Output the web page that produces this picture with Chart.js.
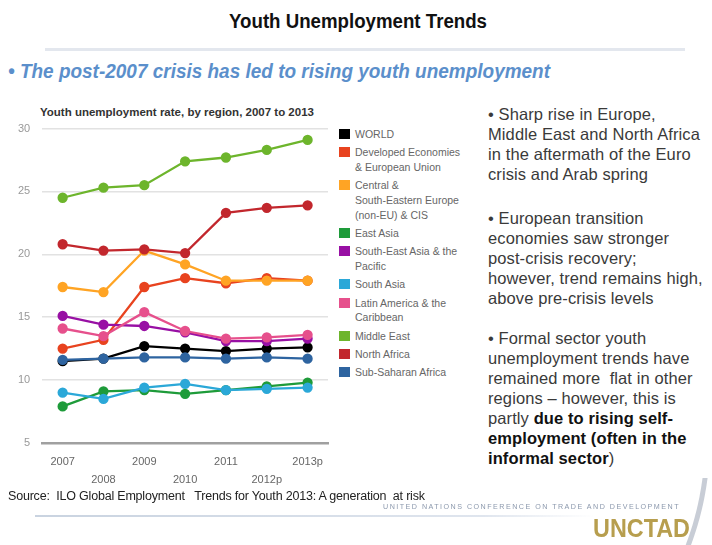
<!DOCTYPE html>
<html lang="en">
<head>
	<meta charset="UTF-8">
	<title>Youth Unemployment Trends</title>
	<script src="https://cdn.jsdelivr.net/npm/chart.js"></script>
	<style>
		* { margin: 0; padding: 0; box-sizing: border-box; }
		body { width: 712px; height: 545px; position: relative; background: #fff; overflow: hidden; font-family: "Liberation Sans", Arial, sans-serif; }
		.fit { position: absolute; white-space: nowrap; transform-origin: 0 0; }
		#titulo { top: 10px; left: 229px; font-size: 20px; font-weight: bold; color: #111; }
		#linea-top { position: absolute; top: 48px; left: 45px; width: 640px; height: 3px; background: #e3e7ee; }
		#subtitulo { top: 60px; left: 8px; font-size: 20px; font-style: italic; font-weight: bold; color: #5b8fcb; }
		#chart-title { position: absolute; top: 106px; left: 40px; font-size: 11.5px; font-weight: bold; color: #333; }
		#grafico-container { position: absolute; left: 0; top: 110px; width: 336px; height: 381px; }
		#leyenda { position: absolute; left: 339px; top: 127px; width: 135px; list-style: none; font-size: 10.5px; color: #666; line-height: 14.6px; }
		#leyenda li { position: relative; padding-left: 16px; margin-bottom: 3.8px; }
		#leyenda li span { position: absolute; left: 0; top: 2px; width: 11px; height: 10px; }
		#texto { position: absolute; left: 488px; top: 104px; width: 224px; font-size: 16.5px; line-height: 20px; color: #3a3a3a; letter-spacing: 0.1px; }
		#texto p { margin-bottom: 24px; }
		#texto p.b3 { margin-top: -4px; }
		#texto b { color: #111; }
		#fuente { position: absolute; left: 8px; top: 489px; font-size: 12.5px; color: #222; letter-spacing: -0.2px; }
		#linea-bottom { position: absolute; top: 515px; left: 35px; width: 560px; height: 2px; background: linear-gradient(to right, #c9d3e0, #dfe5ee 80%, rgba(255,255,255,0)); }
		#unctad-full { top: 503px; left: 383px; font-size: 6.3px; letter-spacing: 1.3px; color: #8c99ad; }
		#unctad { top: 513px; left: 593px; font-size: 26px; font-weight: bold; color: #b79e4e; }
		#swoosh-clip { position: absolute; left: 600px; top: 478px; width: 112px; height: 67px; overflow: hidden; }
		#swoosh { position: absolute; left: -490px; top: -338px; width: 600px; height: 600px; border-radius: 50%; border: 5px solid transparent; border-right-color: #c8cdd6; }
	</style>
</head>
<body>
	<div id="titulo" class="fit" data-w="258">Youth Unemployment Trends</div>
	<div id="linea-top"></div>
	<div id="subtitulo" class="fit" data-w="542">• The post-2007 crisis has led to rising youth unemployment</div>

	<div id="chart-title">Youth unemployment rate, by region, 2007 to 2013</div>
	<div id="grafico-container">
		<canvas id="grafico"></canvas>
	</div>
	<ul id="leyenda"></ul>

	<div id="texto">
		<p>• Sharp rise in Europe,<br>Middle East and North Africa<br>in the aftermath of the Euro<br>crisis and Arab spring</p>
		<p>• European transition<br>economies saw stronger<br>post-crisis recovery;<br>however, trend remains high,<br>above pre-crisis levels</p>
		<p class="b3">• Formal sector youth<br>unemployment trends have<br>remained more&nbsp; flat in other<br>regions – however, this is<br>partly <b>due to rising self-<br>employment (often in the<br>informal sector</b>)</p>
	</div>

	<div id="fuente">Source:&nbsp; ILO Global Employment&nbsp;&nbsp; Trends for Youth 2013: A generation&nbsp; at risk</div>
	<div id="linea-bottom"></div>
	<div id="swoosh-clip"><div id="swoosh"></div></div>
	<div id="unctad-full" class="fit" data-w="297">UNITED NATIONS CONFERENCE ON TRADE AND DEVELOPMENT</div>
	<div id="unctad" class="fit" data-w="97">UNCTAD</div>

	<script>
		// años (eje x)
		const years = ['2007', '2008', '2009', '2010', '2011', '2012p', '2013p'];

		// nombres de las regiones (leyenda, se parten en lineas como en el original)
		const regions = [
			['WORLD'],
			['Developed Economies', '& European Union'],
			['Central &', 'South-Eastern Europe', '(non-EU) & CIS'],
			['East Asia'],
			['South-East Asia & the', 'Pacific'],
			['South Asia'],
			['Latin America & the', 'Caribbean'],
			['Middle East'],
			['North Africa'],
			['Sub-Saharan Africa']
		];

		const colors = ['#000000', '#e8431f', '#ffa424', '#1e9b3a', '#9810a4', '#2ba8d8', '#e6508c', '#6db52c', '#c2272d', '#2e64a0'];

		// tasas de desempleo juvenil (%)
		const world = [11.5, 11.7, 12.7, 12.5, 12.3, 12.5, 12.6];
		const developed = [12.5, 13.2, 17.4, 18.1, 17.7, 18.1, 17.9];
		const centralEurope = [17.4, 17.0, 20.3, 19.2, 17.9, 17.9, 17.9];
		const eastAsia = [7.9, 9.1, 9.2, 8.9, 9.2, 9.5, 9.8];
		const seAsia = [15.1, 14.4, 14.3, 13.8, 13.1, 13.1, 13.3];
		const southAsia = [9.0, 8.5, 9.4, 9.7, 9.2, 9.3, 9.4];
		const latinAmerica = [14.1, 13.5, 15.4, 13.9, 13.3, 13.4, 13.6];
		const middleEast = [24.5, 25.3, 25.5, 27.4, 27.7, 28.3, 29.1];
		const northAfrica = [20.8, 20.3, 20.4, 20.1, 23.3, 23.7, 23.9];
		const subSaharan = [11.6, 11.7, 11.8, 11.8, 11.7, 11.8, 11.7];

		const series = [world, developed, centralEurope, eastAsia, seAsia, southAsia, latinAmerica, middleEast, northAfrica, subSaharan];

		// ajusta el ancho de los textos condensados
		document.querySelectorAll('.fit').forEach(el => {
			const w = el.getBoundingClientRect().width;
			el.style.transform = 'scaleX(' + (parseFloat(el.dataset.w) / w) + ')';
		});

		// leyenda en HTML
		const leyenda = document.getElementById('leyenda');
		regions.forEach((name, i) => {
			const li = document.createElement('li');
			const box = document.createElement('span');
			box.style.background = colors[i];
			li.appendChild(box);
			name.forEach((line, j) => {
				if (j > 0) li.appendChild(document.createElement('br'));
				li.appendChild(document.createTextNode(line));
			});
			leyenda.appendChild(li);
		});

		const datasets = series.map((data, i) => ({
			label: regions[i].join(' '),
			data: data,
			borderColor: colors[i],
			backgroundColor: colors[i],
			pointBackgroundColor: colors[i],
			pointBorderColor: colors[i],
			pointRadius: 4,
			borderWidth: 2.3,
			tension: 0
		})).reverse();

		new Chart(document.getElementById('grafico'), {
			type: 'line',
			data: { labels: years, datasets: datasets },
			options: {
				responsive: true,
				maintainAspectRatio: false,
				animation: false,
				layout: { padding: { left: 6, right: 8, top: 3, bottom: 0 } },
				plugins: { legend: { display: false }, tooltip: { enabled: false } },
				scales: {
					x: {
						offset: true,
						grid: { display: false },
						border: { color: '#a0a0a0', width: 2.5 },
						ticks: {
							color: '#666',
							padding: 3,
							maxRotation: 0,
							autoSkip: false,
							font: { family: 'Liberation Sans', size: 11, lineHeight: 1.55 },
							callback: function (value, index) {
								const lab = this.getLabelForValue(value);
								return index % 2 === 0 ? [lab, ''] : ['', lab];
							}
						}
					},
					y: {
						min: 5,
						max: 30,
						ticks: { stepSize: 5, color: '#999', padding: 12, font: { family: 'Liberation Sans', size: 11 } },
						grid: { color: '#e2e2e2', lineWidth: 1.5, drawTicks: false },
						border: { display: false }
					}
				}
			}
		});
	</script>
</body>
</html>
